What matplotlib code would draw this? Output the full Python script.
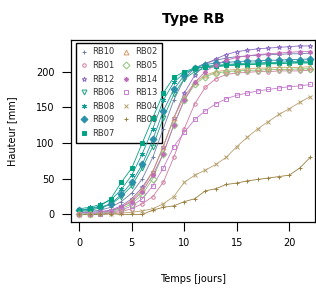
import matplotlib
matplotlib.use("Agg")
import matplotlib.pyplot as plt

days = list(range(23))

names = ["RB10", "RB01", "RB12", "RB06", "RB08", "RB09", "RB07",
         "RB02", "RB05", "RB14", "RB13", "RB04", "RB03"]

RB10 = [3, 4, 6, 10, 18, 30, 50, 80, 120, 160, 190, 205, 212, 216, 219, 221, 222, 223, 224, 224, 225, 225, 226]
RB01 = [0, 0, 1, 2, 4, 8, 15, 25, 45, 80, 120, 155, 178, 190, 196, 198, 199, 200, 200, 201, 201, 201, 202]
RB12 = [2, 3, 4, 6, 12, 22, 38, 60, 95, 135, 170, 195, 210, 218, 224, 228, 230, 232, 233, 234, 235, 236, 236]
RB06 = [4, 6, 9, 14, 25, 40, 65, 95, 135, 168, 190, 200, 205, 207, 208, 209, 210, 210, 211, 211, 212, 212, 212]
RB08 = [8, 10, 14, 20, 35, 55, 85, 120, 160, 185, 198, 204, 207, 209, 210, 211, 212, 212, 213, 213, 214, 214, 215]
RB09 = [6, 8, 10, 15, 28, 45, 70, 105, 145, 175, 195, 205, 210, 212, 213, 214, 215, 215, 216, 216, 217, 217, 218]
RB07 = [5, 8, 12, 22, 45, 65, 100, 135, 170, 192, 200, 205, 207, 208, 209, 210, 210, 211, 211, 212, 212, 213, 213]
RB02 = [0, 1, 2, 5, 10, 20, 35, 60, 95, 135, 165, 185, 195, 200, 202, 203, 204, 205, 205, 206, 206, 206, 207]
RB05 = [0, 1, 2, 4, 8, 15, 28, 50, 85, 125, 160, 182, 193, 198, 200, 201, 202, 202, 203, 203, 203, 204, 204]
RB14 = [0, 1, 3, 5, 10, 18, 32, 55, 85, 125, 160, 185, 200, 210, 216, 220, 222, 224, 225, 226, 227, 228, 228]
RB13 = [0, 0, 1, 3, 6, 12, 22, 40, 65, 95, 115, 133, 145, 155, 162, 167, 170, 173, 175, 177, 179, 180, 182]
RB04 = [0, 0, 0, 1, 2, 3, 5, 8, 15, 25, 45, 55, 62, 70, 80, 95, 108, 120, 130, 140, 148, 157, 165]
RB03 = [0, 0, 0, 1, 0, 0, 0, 6, 10, 12, 18, 22, 33, 36, 42, 44, 47, 49, 51, 53, 55, 65, 80]

series = [RB10, RB01, RB12, RB06, RB08, RB09, RB07, RB02, RB05, RB14, RB13, RB04, RB03]

colors = ["#6e7fa6", "#d07aa0", "#8c6cc4", "#16a37f", "#0f9e94", "#2a8fa8", "#00a383",
          "#d89a6a", "#8cc47a", "#c06cb8", "#c77ccf", "#b8a070", "#9a8040"]
markers = ["+", "o", "*", "v", (6, 2, 0), "D", "s",
           "^", "D", (8, 2, 0), "s", "x", "+"]
filled = [True, False, False, False, True, True, True,
          False, False, True, False, True, True]

fig = plt.figure(figsize=(3.16, 2.89), dpi=100)
ax = fig.add_axes([0.2237, 0.2318, 0.773, 0.630])

for name, vals, c, m, f in zip(names, series, colors, markers, filled):
    ax.plot(days, vals, color=c, lw=0.6, zorder=3)
    ax.plot(days, vals, ls="none", marker=m, color=c, ms=3.5 if m != "o" else 2.5,
            mfc=c if f else "none", mew=0.7, label=name, zorder=4)

ax.set_xlim(-0.82, 22.45)
ax.set_ylim(-10.6, 244.4)
ax.set_xticks([0, 5, 10, 15, 20])
ax.set_yticks([0, 50, 100, 150, 200])
ax.tick_params(direction="out", length=6.5, width=0.8, labelsize=7, pad=5)
for s in ax.spines.values():
    s.set_linewidth(0.9)

ax.set_title("Type RB", fontsize=10, fontweight="bold", pad=12)
ax.set_xlabel("Temps [jours]", fontsize=7, labelpad=19)
ax.set_ylabel("Hauteur [mm]", fontsize=7, labelpad=14)

leg = ax.legend(ncol=2, loc="upper left", bbox_to_anchor=(0.022, 0.984),
                borderaxespad=0, fontsize=6, handlelength=0.8, handletextpad=0.6,
                columnspacing=1.0, labelspacing=0.55, frameon=True, fancybox=False,
                edgecolor="black", framealpha=1, borderpad=0.55)
leg.get_frame().set_linewidth(1.0)
leg.set_zorder(2)
for t in leg.get_texts():
    t.set_color("#333333")

fig.savefig("out.png", dpi=100)
